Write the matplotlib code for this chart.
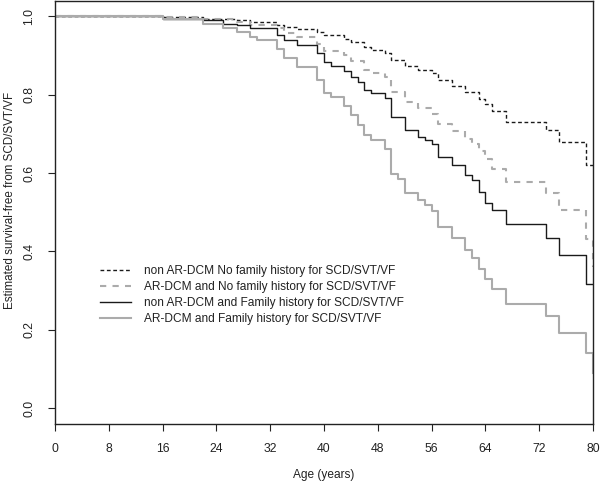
import matplotlib
matplotlib.use("Agg")
import matplotlib.pyplot as plt

plt.rcParams['font.family'] = ['Liberation Sans', 'DejaVu Sans']

# Kaplan-Meier step data (age in years, survival after event)
t_nonar_nofh = [0, 16, 22, 27, 29, 33, 34, 36, 39, 40, 43, 44, 46, 47, 49, 50, 52, 54, 56, 57,
                59, 61, 63, 64, 65, 67, 73, 75, 79, 80]
s_nonar_nofh = [1.0, 0.997, 0.992, 0.989, 0.984, 0.978, 0.973, 0.967, 0.959, 0.951, 0.942, 0.933,
                0.922, 0.915, 0.907, 0.887, 0.872, 0.862, 0.854, 0.836, 0.822, 0.806, 0.790,
                0.776, 0.758, 0.730, 0.709, 0.679, 0.621, 0.621]

t_ar_nofh = [0, 16, 22, 27, 29, 33, 34, 36, 39, 40, 43, 44, 46, 47, 49, 50, 52, 54, 56, 57,
             59, 61, 62, 63, 64, 65, 67, 73, 75, 79, 80]
s_ar_nofh = [1.0, 0.997, 0.992, 0.984, 0.977, 0.970, 0.957, 0.946, 0.928, 0.911, 0.902, 0.886,
             0.863, 0.855, 0.845, 0.807, 0.781, 0.767, 0.750, 0.726, 0.707, 0.688, 0.675,
             0.655, 0.635, 0.611, 0.577, 0.549, 0.505, 0.433, 0.36]

t_nonar_fh = [0, 16, 22, 25, 27, 29, 33, 34, 36, 39, 40, 41, 43, 44, 45, 46, 47, 49, 50, 52,
              54, 55, 56, 57, 59, 61, 62, 63, 64, 65, 67, 73, 75, 79, 80]
s_nonar_fh = [1.0, 0.994, 0.990, 0.981, 0.977, 0.970, 0.952, 0.939, 0.926, 0.905, 0.883, 0.873,
              0.860, 0.845, 0.833, 0.813, 0.805, 0.791, 0.744, 0.709, 0.692, 0.684, 0.674,
              0.642, 0.620, 0.596, 0.582, 0.552, 0.523, 0.507, 0.469, 0.434, 0.391, 0.316, 0.316]

t_ar_fh = [0, 16, 22, 25, 27, 29, 30, 33, 34, 36, 39, 40, 41, 43, 44, 45, 46, 47, 49, 50, 51,
           52, 54, 55, 56, 57, 59, 61, 62, 63, 64, 65, 67, 73, 75, 79, 80]
s_ar_fh = [1.0, 0.994, 0.981, 0.970, 0.960, 0.947, 0.939, 0.917, 0.894, 0.871, 0.838, 0.805,
           0.794, 0.770, 0.747, 0.722, 0.696, 0.684, 0.662, 0.598, 0.584, 0.549, 0.531, 0.518,
           0.502, 0.463, 0.434, 0.403, 0.384, 0.356, 0.331, 0.305, 0.265, 0.235, 0.193,
           0.140, 0.09]

labels = ["non AR-DCM No family history for SCD/SVT/VF",
          "AR-DCM and No family history for SCD/SVT/VF",
          "non AR-DCM and Family history for SCD/SVT/VF",
          "AR-DCM and Family history for SCD/SVT/VF"]

x_ticks = [0, 8, 16, 24, 32, 40, 48, 56, 64, 72, 80]
y_ticks = [0.0, 0.2, 0.4, 0.6, 0.8, 1.0]

fig = plt.figure(figsize=(6.0, 4.82), dpi=100)
ax = fig.add_axes([55/600, 1 - 424/482, (593-55)/600, 423.5/482])

dark = '#1a1a1a'
grey = '#ababab'
ax.step(t_nonar_nofh, s_nonar_nofh, where='post', color=dark, lw=1.0,
        linestyle=(0, (2.7, 1.9)), label=labels[0])
ax.step(t_ar_nofh, s_ar_nofh, where='post', color=grey, lw=1.5,
        linestyle=(0, (3, 3)), label=labels[1])
ax.step(t_nonar_fh, s_nonar_fh, where='post', color=dark, lw=1.0,
        linestyle='-', label=labels[2])
ax.step(t_ar_fh, s_ar_fh, where='post', color=grey, lw=1.5,
        linestyle='-', label=labels[3])

ax.set_xlim(0, 80)
ax.set_ylim(-0.04, 1.04)
ax.set_xticks(x_ticks)
ax.set_xticklabels([str(v) for v in x_ticks])
ax.set_yticks(y_ticks)
ax.set_yticklabels([f"{v:.1f}" for v in y_ticks], rotation=90, va='center')

for sp in ax.spines.values():
    sp.set_color('#222222')
    sp.set_linewidth(1.0)

ax.tick_params(axis='both', direction='out', length=5, width=0.8, color='#222222',
               labelsize=8.8, labelcolor='#222222')
ax.tick_params(axis='x', pad=9)
ax.tick_params(axis='y', pad=9)

ax.set_xlabel("Age (years)", fontsize=8.6, color='#222222')
ax.xaxis.set_label_coords(0.5, (424 - 475) / 424)
ax.xaxis.label.set_va('center')
ax.set_ylabel("Estimated survival-free from SCD/SVT/VF", fontsize=8.4, color='#222222')
ax.yaxis.set_label_coords((10 - 55) / 538, (424 - 200) / 424)
ax.yaxis.label.set_va('center')

leg = ax.legend(loc='upper left', bbox_to_anchor=(0.075, 0.386), frameon=False,
                fontsize=8.6, handlelength=2.6, handletextpad=1.1, labelspacing=0.32,
                borderaxespad=0)
for txt in leg.get_texts():
    txt.set_color('#222222')

fig.savefig("out.png", dpi=100)
